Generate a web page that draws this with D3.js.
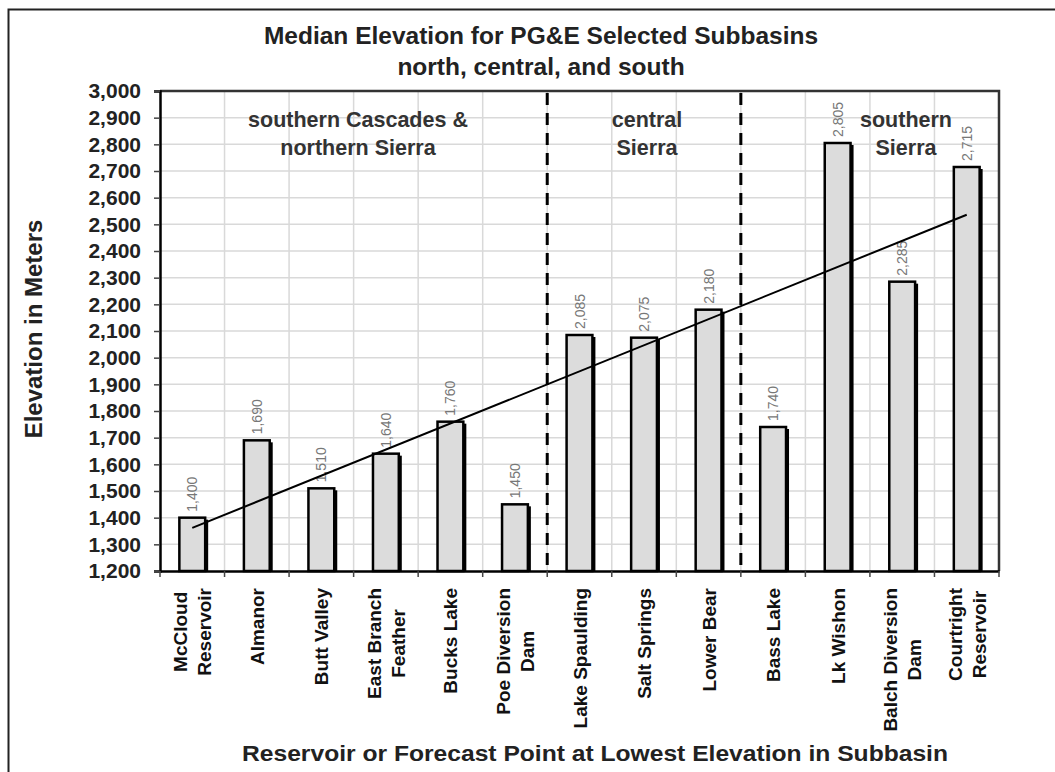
<!DOCTYPE html>
<html>
<head>
<meta charset="utf-8">
<script src="https://cdn.jsdelivr.net/npm/d3@7"></script>
<style>
  body { margin: 0; background: #fff; }
  svg { display: block; font-family: Arial, "Liberation Sans", sans-serif; }
</style>
</head>
<body>
<svg id="chart" width="1055" height="772"></svg>
<script>
// data
const categories = [
    "McCloud\nReservoir", "Almanor", "Butt Valley", "East Branch\nFeather",
    "Bucks Lake", "Poe Diversion\nDam", "Lake Spaulding", "Salt Springs",
    "Lower Bear", "Bass Lake", "Lk Wishon", "Balch Diversion\nDam", "Courtright\nReservoir"
]
const elevations = [1400, 1690, 1510, 1640, 1760, 1450, 2085, 2075, 2180, 1740, 2805, 2285, 2715]
const yTicks = [1200, 1300, 1400, 1500, 1600, 1700, 1800, 1900, 2000, 2100,
    2200, 2300, 2400, 2500, 2600, 2700, 2800, 2900, 3000]
const regionNames = [
    ["southern Cascades &", "northern Sierra"],
    ["central", "Sierra"],
    ["southern", "Sierra"]
]
const regionStarts = ["McCloud\nReservoir", "Lake Spaulding", "Bass Lake"]
const titleLines = ["Median Elevation for PG&E Selected Subbasins", "north, central, and south"]
const yTitle = "Elevation in Meters"
const xTitle = "Reservoir or Forecast Point at Lowest Elevation in Subbasin"

const svg = d3.select("#chart")
const plotLeft = 160, plotRight = 999, plotTop = 91, plotBottom = 571

const x = d3.scaleBand().domain(categories).range([plotLeft, plotRight]).padding(0)
const y = d3.scaleLinear().domain([1200, 3000]).range([plotBottom, plotTop])
const fmt = d3.format(",")

// outer frame
svg.append("rect")
    .attr("x", 8.5).attr("y", 9.5)
    .attr("width", 1200).attr("height", 900)
    .attr("fill", "#fff").attr("stroke", "#222").attr("stroke-width", 2)

// title
svg.append("g").selectAll("text")
    .data(titleLines)
    .join("text")
    .attr("x", 541)
    .attr("y", (d, i) => 44 + i * 31)
    .attr("text-anchor", "middle")
    .attr("font-size", 24.5)
    .attr("font-weight", "bold")
    .attr("fill", "#222")
    .text(d => d)

// gridlines
const grid = svg.append("g").attr("stroke", "#d9d9d9").attr("stroke-width", 1.5)
grid.selectAll("line.h")
    .data(yTicks.slice(1, -1))
    .join("line")
    .attr("class", "h")
    .attr("x1", plotLeft).attr("x2", plotRight)
    .attr("y1", d => y(d)).attr("y2", d => y(d))
grid.selectAll("line.v")
    .data(categories.slice(1))
    .join("line")
    .attr("class", "v")
    .attr("x1", d => x(d)).attr("x2", d => x(d))
    .attr("y1", plotTop).attr("y2", plotBottom)

// plot frame top/right
svg.append("path")
    .attr("d", `M${plotLeft},${plotTop}H${plotRight}V${plotBottom}`)
    .attr("fill", "none").attr("stroke", "#333").attr("stroke-width", 2.5)

// region separators
svg.append("g").selectAll("line")
    .data(regionStarts.slice(1))
    .join("line")
    .attr("x1", d => x(d)).attr("x2", d => x(d))
    .attr("y1", plotTop + 2).attr("y2", plotBottom)
    .attr("stroke", "#000").attr("stroke-width", 3)
    .attr("stroke-dasharray", "12,8")

// region labels
const regionLabelX = [358, 647, 906]
regionNames.forEach((lines, i) => {
    svg.append("text")
        .attr("text-anchor", "middle")
        .attr("font-size", 21.5)
        .attr("font-weight", "bold")
        .attr("fill", "#333")
        .selectAll("tspan")
        .data(lines)
        .join("tspan")
        .attr("x", regionLabelX[i])
        .attr("y", (d, j) => 127 + j * 28)
        .text(d => d)
})

// bars
const barW = x.bandwidth() * 0.4
const bars = svg.append("g")
bars.selectAll("rect.shadow")
    .data(elevations)
    .join("rect")
    .attr("class", "shadow")
    .attr("x", (d, i) => x(categories[i]) + (x.bandwidth() - barW) / 2 + 3)
    .attr("y", d => y(d) + 2)
    .attr("width", barW)
    .attr("height", d => plotBottom - y(d) - 2)
    .attr("fill", "#000")
bars.selectAll("rect.bar")
    .data(elevations)
    .join("rect")
    .attr("class", "bar")
    .attr("x", (d, i) => x(categories[i]) + (x.bandwidth() - barW) / 2)
    .attr("y", d => y(d))
    .attr("width", barW)
    .attr("height", d => plotBottom - y(d))
    .attr("fill", "#dcdcdc")
    .attr("stroke", "#000")
    .attr("stroke-width", 2.5)

// value labels
svg.append("g").selectAll("text")
    .data(elevations)
    .join("text")
    .attr("transform", (d, i) =>
        `translate(${x(categories[i]) + x.bandwidth() / 2 + 5},${y(d) - 6}) rotate(-90)`)
    .attr("font-size", 14)
    .attr("fill", "#777")
    .text(d => fmt(d))

// linear trend (least squares over category index)
const idx = elevations.map((d, i) => i)
const mx = d3.mean(idx), my = d3.mean(elevations)
const slope = d3.sum(idx, i => (i - mx) * (elevations[i] - my)) / d3.sum(idx, i => (i - mx) ** 2)
const trend = i => my + slope * (i - mx)
const cx = i => x(categories[i]) + x.bandwidth() / 2
svg.append("line")
    .attr("x1", cx(0)).attr("y1", y(trend(0)))
    .attr("x2", cx(categories.length - 1)).attr("y2", y(trend(categories.length - 1)))
    .attr("stroke", "#000").attr("stroke-width", 2)

// y axis
const yAxis = svg.append("g")
    .attr("transform", `translate(${plotLeft},0)`)
    .call(d3.axisLeft(y).tickValues(yTicks).tickFormat(fmt).tickSize(6).tickPadding(13))
yAxis.select(".domain").attr("stroke", "#000").attr("stroke-width", 2.5)
yAxis.selectAll(".tick line").attr("stroke", "#444").attr("stroke-width", 1.5)
yAxis.selectAll(".tick text")
    .attr("font-size", 21)
    .attr("font-weight", "bold")
    .attr("font-family", "Arial, 'Liberation Sans', sans-serif")
    .attr("fill", "#222")

// x axis
const xAxis = svg.append("g")
    .attr("transform", `translate(0,${plotBottom})`)
    .call(d3.axisBottom(x).tickSize(0).tickFormat(""))
xAxis.select(".domain").attr("stroke", "#000").attr("stroke-width", 2.5)
xAxis.selectAll(".tick text").remove()

xAxis.append("g").selectAll("line")
    .data(d3.range(categories.length + 1))
    .join("line")
    .attr("x1", i => plotLeft + i * x.step()).attr("x2", i => plotLeft + i * x.step())
    .attr("y1", 0).attr("y2", 6)
    .attr("stroke", "#444").attr("stroke-width", 1.5)

xAxis.selectAll(".tick").each(function (d) {
    const lines = d.split("\n")
    const t = d3.select(this).append("text")
        .attr("transform", "rotate(-90)")
        .attr("text-anchor", "middle")
        .attr("font-size", 19)
        .attr("font-weight", "bold")
        .attr("font-family", "Arial, 'Liberation Sans', sans-serif")
        .attr("fill", "#111")
    const spans = t.selectAll("tspan")
        .data(lines)
        .join("tspan")
        .text(s => s)
    const maxLen = d3.max(spans.nodes(), n => n.getComputedTextLength())
    spans
        .attr("x", -(17 + maxLen / 2))
        .attr("y", (s, j) => 7 + (j - (lines.length - 1) / 2) * 24)
})

// axis titles
svg.append("text")
    .attr("transform", `translate(42,${(plotTop + plotBottom) / 2 - 2}) rotate(-90)`)
    .attr("text-anchor", "middle")
    .attr("font-size", 24)
    .attr("font-weight", "bold")
    .attr("fill", "#222")
    .text(yTitle)

svg.append("text")
    .attr("x", 595)
    .attr("y", 761)
    .attr("text-anchor", "middle")
    .attr("font-size", 22)
    .attr("font-weight", "bold")
    .attr("fill", "#222")
    .attr("textLength", 706)
    .attr("lengthAdjust", "spacingAndGlyphs")
    .text(xTitle)
</script>
</body>
</html>
